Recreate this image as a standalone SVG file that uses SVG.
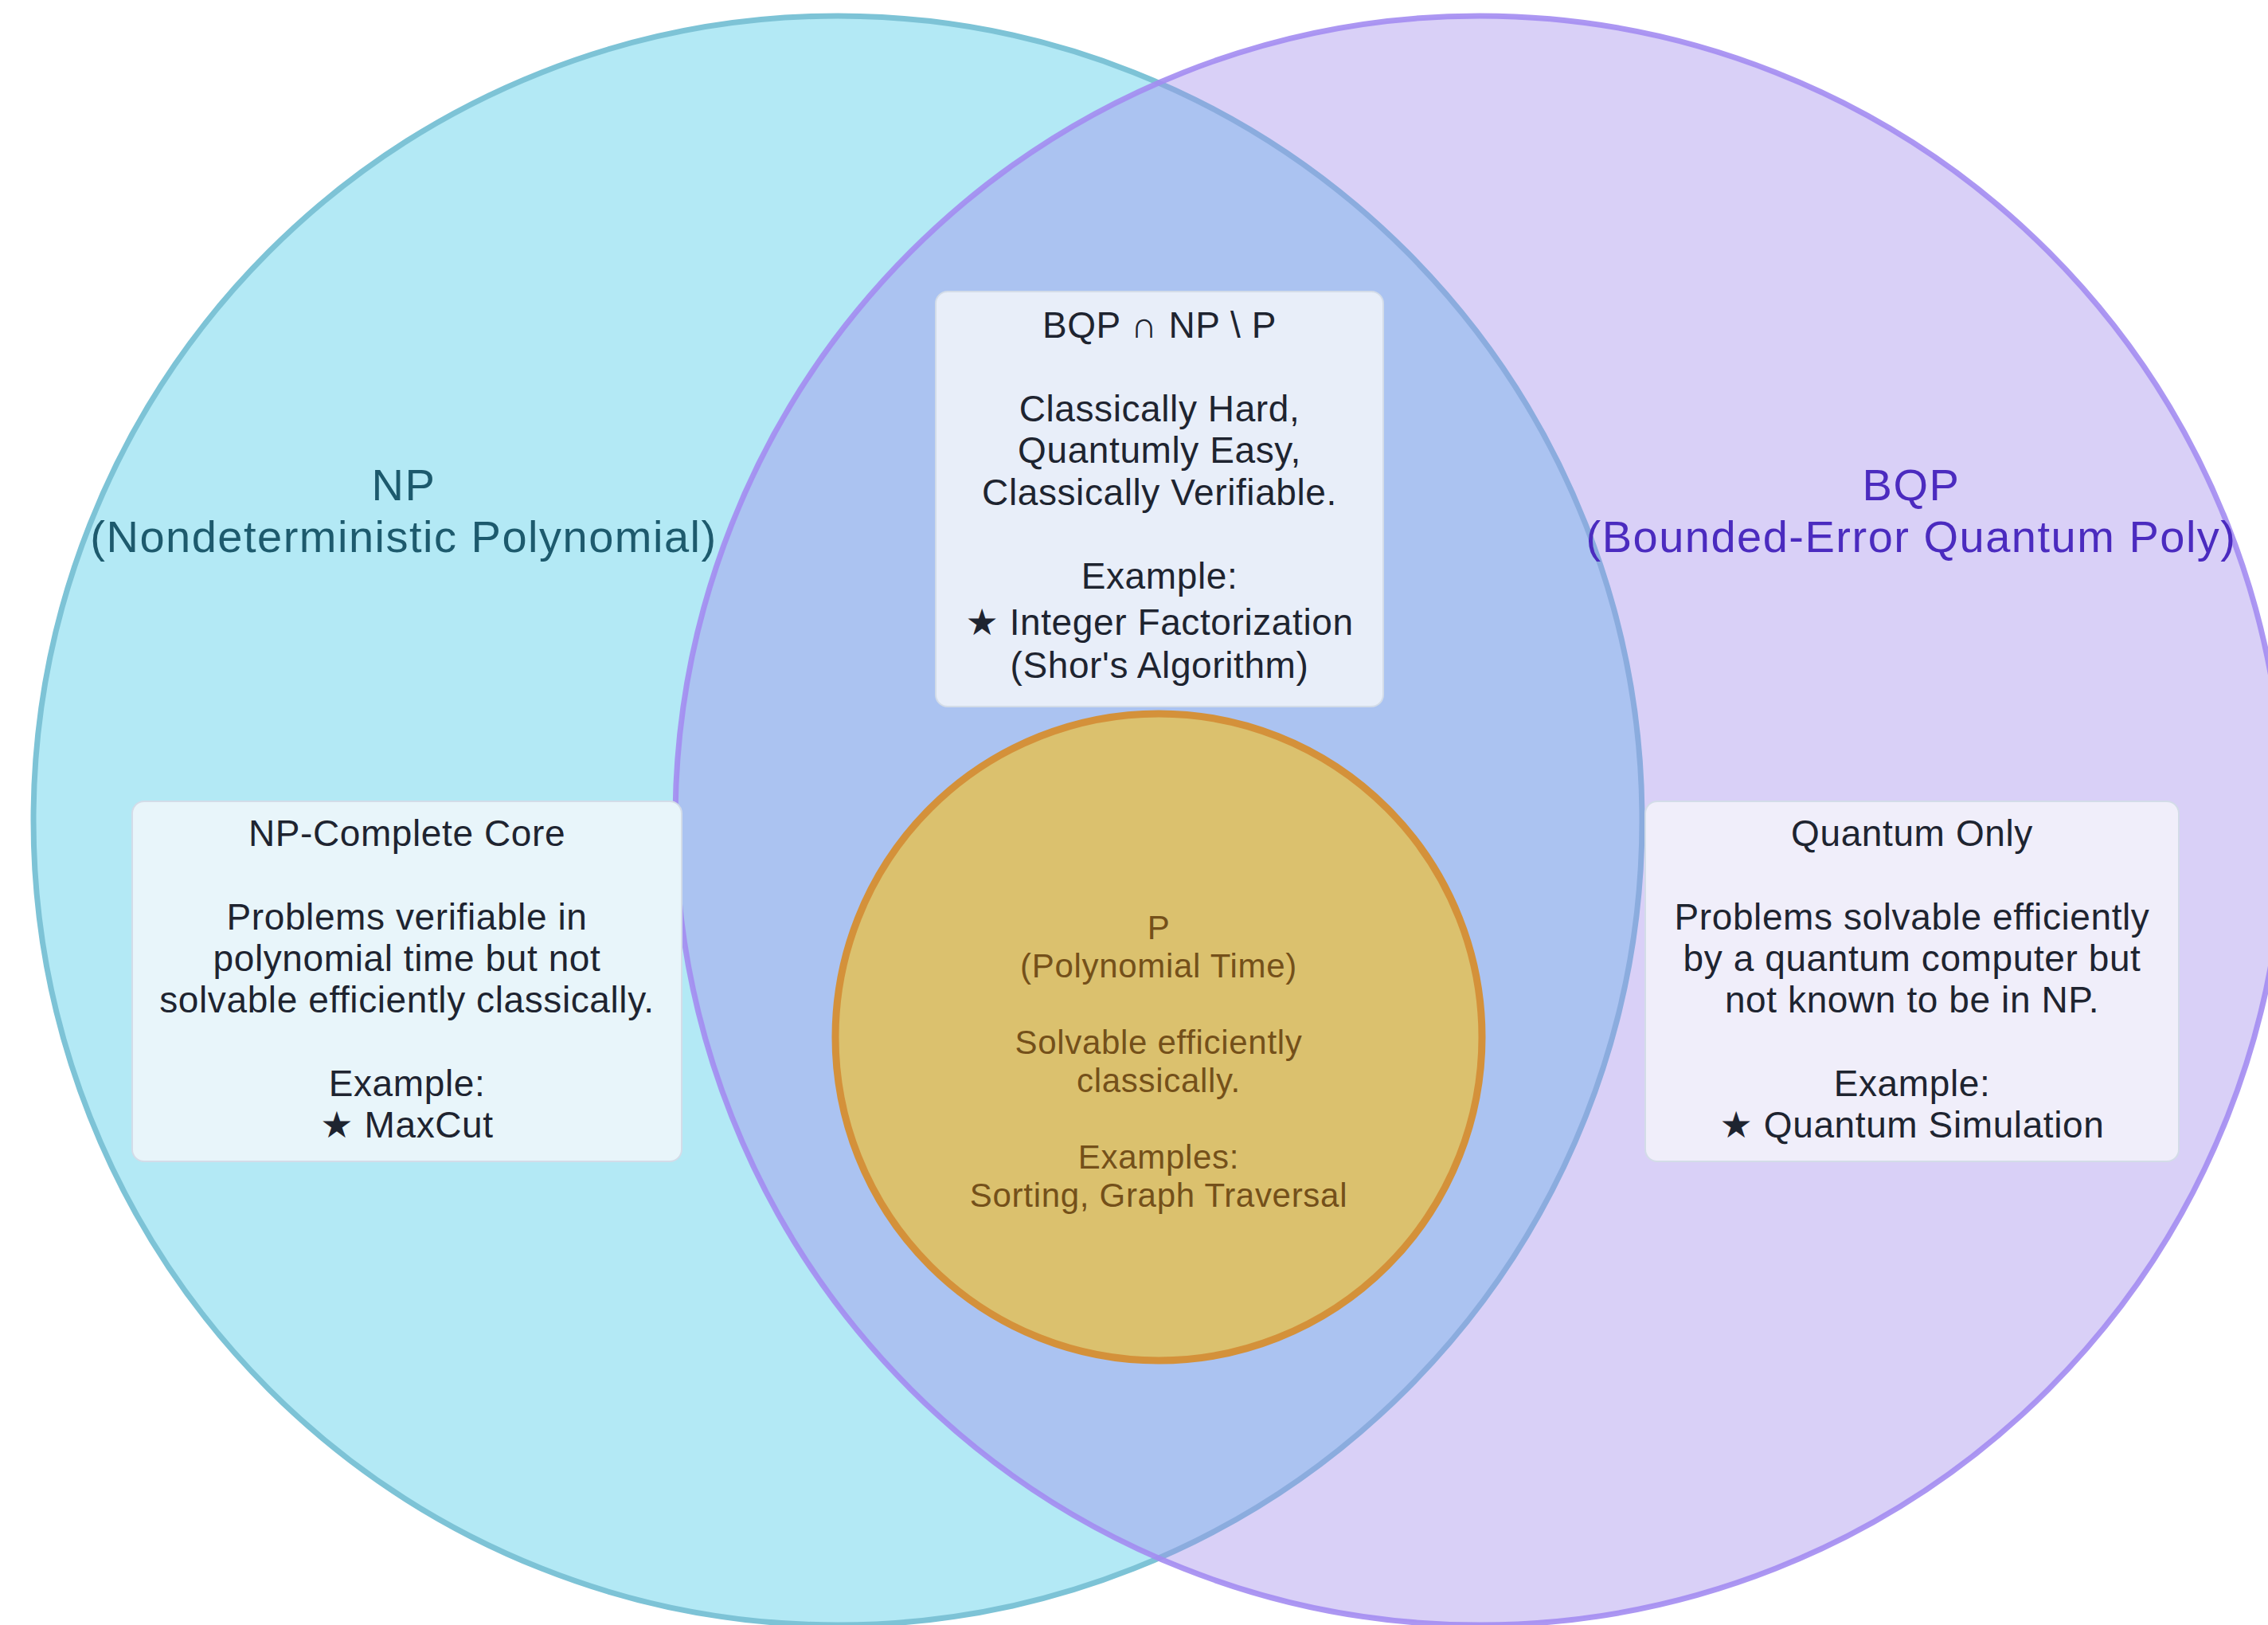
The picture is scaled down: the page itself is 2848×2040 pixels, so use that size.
<svg xmlns="http://www.w3.org/2000/svg" width="2848" height="2040" viewBox="0 0 2848 2040">
  <style>
    text { font-family: "Liberation Sans", Arial, "DejaVu Sans", sans-serif; text-anchor: middle; }
    .set-label { font-size: 56px; letter-spacing: 1.5px; }
    .np-label { fill: #1d5a6d; }
    .bqp-label { fill: #4b2bbf; }
    .box { stroke: #d3dce8; stroke-width: 2; }
    .box-text { font-size: 46px; letter-spacing: 0.6px; fill: #1e2430; }
    .p-text { font-size: 42px; letter-spacing: 0.7px; fill: #74501a; }
  </style>

  <rect x="0" y="0" width="2848" height="2040" fill="#ffffff"/>

  <!-- NP set -->
  <g id="np-set">
    <circle cx="1052" cy="1030" r="1010" fill="#b3e9f5" stroke="#7dc3d6" stroke-width="7"/>
  </g>

  <!-- BQP set, translucent so the overlap reads as a blend -->
  <g id="bqp-set">
    <circle cx="1858" cy="1030" r="1010" fill="#a089eb" fill-opacity="0.4" stroke="none"/>
    <circle cx="1858" cy="1030" r="1010" fill="none" stroke="#a38cf1" stroke-width="7" stroke-opacity="0.9"/>
  </g>

  <!-- P set -->
  <g id="p-set">
    <circle cx="1455" cy="1302" r="406" fill="#dbc16e" stroke="#d4913a" stroke-width="9"/>
    <text class="p-text" x="1455" y="1179">P</text>
    <text class="p-text" x="1455" y="1227">(Polynomial Time)</text>
    <text class="p-text" x="1455" y="1323">Solvable efficiently</text>
    <text class="p-text" x="1455" y="1371">classically.</text>
    <text class="p-text" x="1455" y="1467">Examples:</text>
    <text class="p-text" x="1455" y="1515">Sorting, Graph Traversal</text>
  </g>

  <!-- set titles -->
  <g id="np-title">
    <text class="set-label np-label" x="507" y="628">NP</text>
    <text class="set-label np-label" x="507" y="693">(Nondeterministic Polynomial)</text>
  </g>
  <g id="bqp-title">
    <text class="set-label bqp-label" x="2400" y="628">BQP</text>
    <text class="set-label bqp-label" x="2400" y="693">(Bounded-Error Quantum Poly)</text>
  </g>

  <!-- intersection card -->
  <g id="box-intersection">
    <rect class="box" x="1175" y="366" width="562" height="521" rx="15" fill="#e8eef9"/>
    <text class="box-text" x="1456" y="424">BQP ∩ NP \ P</text>
    <text class="box-text" x="1456" y="529">Classically Hard,</text>
    <text class="box-text" x="1456" y="581">Quantumly Easy,</text>
    <text class="box-text" x="1456" y="634">Classically Verifiable.</text>
    <text class="box-text" x="1456" y="739">Example:</text>
    <text class="box-text" x="1456" y="797">★ Integer Factorization</text>
    <text class="box-text" x="1456" y="851">(Shor's Algorithm)</text>
  </g>

  <!-- NP-complete card -->
  <g id="box-np-complete">
    <rect class="box" x="166" y="1006" width="690" height="452" rx="15" fill="#e8f5fa"/>
    <text class="box-text" x="511" y="1062">NP-Complete Core</text>
    <text class="box-text" x="511" y="1167">Problems verifiable in</text>
    <text class="box-text" x="511" y="1219">polynomial time but not</text>
    <text class="box-text" x="511" y="1271">solvable efficiently classically.</text>
    <text class="box-text" x="511" y="1376">Example:</text>
    <text class="box-text" x="511" y="1428">★ MaxCut</text>
  </g>

  <!-- quantum-only card -->
  <g id="box-quantum-only">
    <rect class="box" x="2066" y="1006" width="670" height="452" rx="15" fill="#f0eefa"/>
    <text class="box-text" x="2401" y="1062">Quantum Only</text>
    <text class="box-text" x="2401" y="1167">Problems solvable efficiently</text>
    <text class="box-text" x="2401" y="1219">by a quantum computer but</text>
    <text class="box-text" x="2401" y="1271">not known to be in NP.</text>
    <text class="box-text" x="2401" y="1376">Example:</text>
    <text class="box-text" x="2401" y="1428">★ Quantum Simulation</text>
  </g>

  <g id="connectors"/>
</svg>
